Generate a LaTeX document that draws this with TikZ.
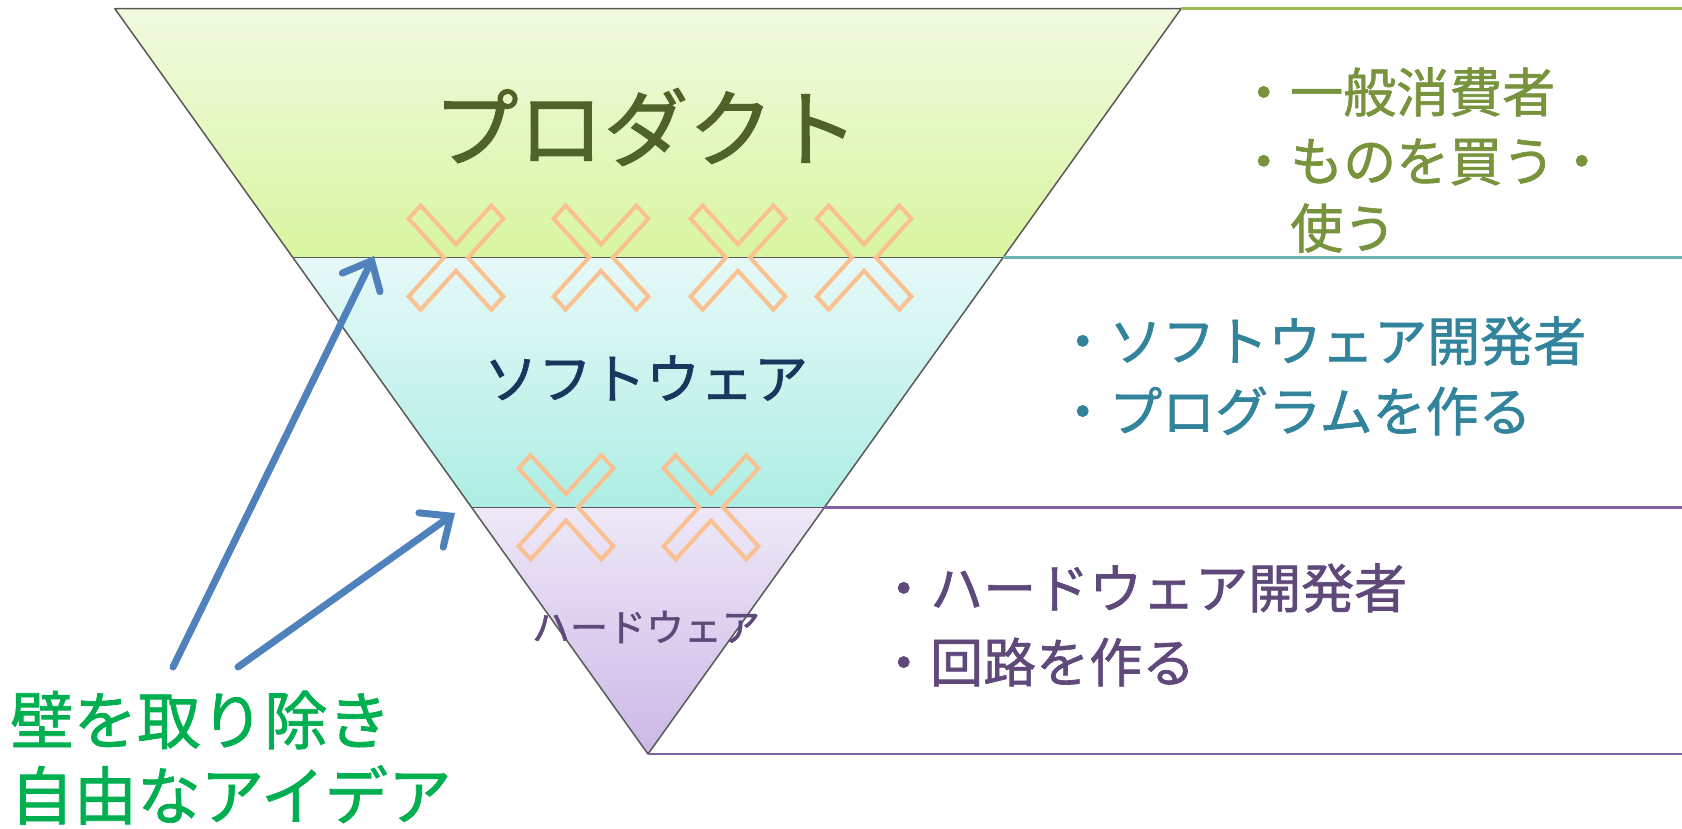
\documentclass[tikz,border=0pt]{standalone}
\usepackage{fontspec}
\setmainfont{Noto Sans CJK JP}[FakeBold=1.2]
\usetikzlibrary{calc,arrows.meta}
\definecolor{prodc}{HTML}{4F6228}
\definecolor{softc}{HTML}{17375E}
\definecolor{hardc}{HTML}{5F497A}
\definecolor{olivec}{HTML}{77933C}
\definecolor{tealc}{HTML}{31849B}
\definecolor{greenc}{HTML}{00B050}
\definecolor{bluec}{HTML}{4F81BD}
\definecolor{xcol}{HTML}{FAC090}
\definecolor{lgreen}{HTML}{9BBB59}
\definecolor{lteal}{HTML}{6CB4B4}
\definecolor{lpurple}{HTML}{8064A2}
\definecolor{gtop}{HTML}{F1FAE0}
\definecolor{gbot}{HTML}{D9F5A0}
\definecolor{ttop}{HTML}{E6F9F8}
\definecolor{tbot}{HTML}{ADEEE3}
\definecolor{ptop}{HTML}{EEE8F7}
\definecolor{pbot}{HTML}{CBB8E6}
\begin{document}
\begin{tikzpicture}[x=1pt,y=-1pt,
  edge/.style={draw=black!65, line width=1.5pt, line join=round},
  sideline/.style={line width=2.6pt},
  xline/.style={draw=xcol, line width=4pt, line join=miter},
  lbl/.style={inner sep=0pt, anchor=west},
  arr/.style={draw=bluec, line width=7pt, line cap=round,
    -{Straight Barb[length=24pt, width=42pt, line cap=round]}},
  xmark/.pic={\draw[xline, yscale=1.1, rotate=45]
    (8.5,8.5) -- (58.5,8.5) -- (58.5,-8.5) -- (8.5,-8.5) -- (8.5,-58.5) -- (-8.5,-58.5)
    -- (-8.5,-8.5) -- (-58.5,-8.5) -- (-58.5,8.5) -- (-8.5,8.5) -- (-8.5,58.5) -- (8.5,58.5) -- cycle;}
]
\useasboundingbox (0,0) rectangle (1682,828);
\fill[white] (0,0) rectangle (1682,828);

% triangle corners
\coordinate (tl) at (114.8,8.6);
\coordinate (tr) at (1181.2,8.6);
\coordinate (ap) at (648,754);
\coordinate (b1l) at ($(tl)!0.334!(ap)$);
\coordinate (b1r) at ($(tr)!0.334!(ap)$);
\coordinate (b2l) at ($(tl)!0.669!(ap)$);
\coordinate (b2r) at ($(tr)!0.669!(ap)$);

% bands
\shade[top color=gtop, bottom color=gbot] (tl) -- (tr) -- (b1r) -- (b1l) -- cycle;
\shade[top color=ttop, bottom color=tbot] (b1l) -- (b1r) -- (b2r) -- (b2l) -- cycle;
\shade[top color=ptop, bottom color=pbot] (b2l) -- (b2r) -- (ap) -- cycle;

% outlines
\draw[edge] (tl) -- (tr) -- (ap) -- cycle;
\draw[edge] (b1l) -- (b1r);
\draw[edge] (b2l) -- (b2r);

% side lines
\coordinate (e0) at (1682,8.6);
\coordinate (e1) at (1682,0 |- b1r);
\coordinate (e2) at (1682,0 |- b2r);
\coordinate (e3) at (1682,754);
\draw[sideline, lgreen] (tr) -- (e0);
\draw[sideline, lteal] (b1r) -- (e1 |- b1r);
\draw[sideline, lpurple] (b2r) -- (e2 |- b2r);
\draw[sideline, lpurple] (ap) -- (e3);

% X marks
\pic at ($(456,0)+(0,0 |- b1l)$) {xmark};
\pic at ($(601,0)+(0,0 |- b1l)$) {xmark};
\pic at ($(738,0)+(0,0 |- b1l)$) {xmark};
\pic at ($(864,0)+(0,0 |- b1l)$) {xmark};
\pic at ($(566,0)+(0,0 |- b2l)$) {xmark};
\pic at ($(711,0)+(0,0 |- b2l)$) {xmark};

% band titles
\node[inner sep=0pt, text=prodc, font=\fontsize{85}{90}\selectfont] (prod) at (646,127) {プロダクト};
\node[inner sep=0pt, text=softc, font=\fontsize{54}{60}\selectfont] (soft) at (646,378) {ソフトウェア};
\node[inner sep=0pt, text=hardc, font=\fontsize{38}{42}\selectfont] (hard) at (646,627) {ハードウェア};

% right descriptions
\begin{scope}[every node/.style={lbl, font=\fontsize{53}{60}\selectfont}]
\node[text=olivec] (p1) at (1237,92) {・一般消費者};
\node[text=olivec] (p2) at (1237,162) {・ものを買う・};
\node[text=olivec] (p3) at (1290,228) {使う};
\node[text=tealc] (s1) at (1056,341) {・ソフトウェア開発者};
\node[text=tealc] (s2) at (1056,411) {・プログラムを作る};
\node[text=hardc] (h1) at (877,588) {・ハードウェア開発者};
\node[text=hardc] (h2) at (877,662) {・回路を作る};
\end{scope}

% left message
\node[lbl, text=greenc, font=\fontsize{63.5}{70}\selectfont] (m1) at (10,720) {壁を取り除き};
\node[lbl, text=greenc, font=\fontsize{63.5}{70}\selectfont] (m2) at (10,795) {自由なアイデア};

% arrows
\coordinate (a1s) at (173,667);
\coordinate (a1e) at (374,256);
\coordinate (a2s) at (238,667);
\coordinate (a2e) at (455,513);
\draw[arr] (a1s) -- (a1e);
\draw[arr] (a2s) -- (a2e);
\end{tikzpicture}
\end{document}
